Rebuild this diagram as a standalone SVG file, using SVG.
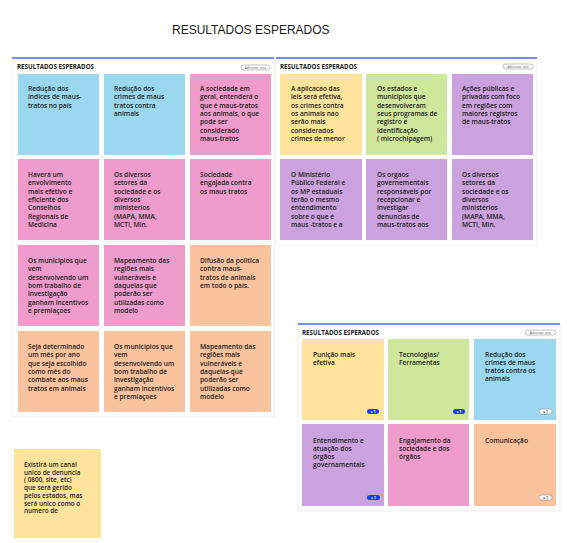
<svg xmlns="http://www.w3.org/2000/svg" width="567" height="543" viewBox="0 0 567 543">
<style>
.panel{fill:#ffffff;stroke:#ececec;stroke-width:0.8}
.bar{stroke:#4a66f5;stroke-width:1.5}
.hdr{font-family:"Open Sans","Liberation Sans",sans-serif;font-weight:700;font-size:6.2px;fill:#1a1a1a}
.btn{fill:#ffffff;stroke:#9a9a9a;stroke-width:0.6}
.btnt{font-family:"Open Sans","Liberation Sans",sans-serif;font-size:3.2px;fill:#555}
.t{font-family:"Open Sans","Noto Sans","Liberation Sans",sans-serif;font-weight:600;font-size:6.6px;fill:#1a1a1a}
.ts{font-family:"Open Sans","Noto Sans","Liberation Sans",sans-serif;font-weight:600;font-size:6.4px;fill:#1a1a1a}
.blue{fill:#9bd8f0}.pink{fill:#ef9bcb}.peach{fill:#fac29d}.yellow{fill:#fee39b}.green{fill:#cfe79d}.purple{fill:#c9a2de}
.vb{fill:#1f3bff}.vw{fill:#ffffff;stroke:#888;stroke-width:0.6}
.vbt{font-family:"Open Sans","Liberation Sans",sans-serif;font-size:3.4px;fill:#ffffff;font-weight:700}
.vwt{font-family:"Open Sans","Liberation Sans",sans-serif;font-size:3.4px;fill:#333;font-weight:700}
.title{font-family:"Liberation Sans",sans-serif;font-size:12px;fill:#1a1a1a}
</style>
<rect x="0" y="0" width="567" height="543" fill="#ffffff"/>
<text class="title" x="172" y="34">RESULTADOS ESPERADOS</text>

<g id="panel-left">
<rect class="panel" x="12" y="58" width="262" height="359"/>
<line class="bar" x1="12" y1="58" x2="274" y2="58"/>
<text class="hdr" x="17" y="69">RESULTADOS ESPERADOS</text>
<rect class="btn" x="241" y="65" width="29" height="5" rx="2.5"/>
<text class="btnt" x="255.5" y="68.7" text-anchor="middle">Adicionar voto</text>
</g>

<g id="panel-right">
<rect class="panel" x="276" y="58" width="261" height="187"/>
<line class="bar" x1="276" y1="58" x2="537" y2="58"/>
<text class="hdr" x="280" y="69">RESULTADOS ESPERADOS</text>
<rect class="btn" x="503" y="64" width="30" height="5" rx="2.5"/>
<text class="btnt" x="518" y="67.7" text-anchor="middle">Adicionar voto</text>
</g>

<g id="panel-bottom">
<rect class="panel" x="298" y="324" width="262" height="187"/>
<line class="bar" x1="298" y1="324" x2="560" y2="324"/>
<text class="hdr" x="302" y="335">RESULTADOS ESPERADOS</text>
<rect class="btn" x="525" y="330" width="31" height="5" rx="2.5"/>
<text class="btnt" x="540.5" y="333.7" text-anchor="middle">Adicionar voto</text>
</g>

<!-- Left panel stickies -->
<g id="s-l1"><rect class="blue" x="18" y="74" width="81" height="81"/>
<text class="t" x="28" y="91"><tspan x="28">Redução dos</tspan><tspan x="28" dy="8.3">índices de maus-</tspan><tspan x="28" dy="8.3">tratos no país</tspan></text></g>
<g id="s-l2"><rect class="blue" x="104" y="74" width="81" height="81"/>
<text class="t" x="114" y="91"><tspan x="114">Redução dos</tspan><tspan x="114" dy="8.3">crimes de maus</tspan><tspan x="114" dy="8.3">tratos contra</tspan><tspan x="114" dy="8.3">animais</tspan></text></g>
<g id="s-l3"><rect class="pink" x="190" y="74" width="81" height="81"/>
<text class="t" x="200" y="91"><tspan x="200">A sociedade em</tspan><tspan x="200" dy="8.3">geral, entenderá o</tspan><tspan x="200" dy="8.3">que é maus-tratos</tspan><tspan x="200" dy="8.3">aos animais, o que</tspan><tspan x="200" dy="8.3">pode ser</tspan><tspan x="200" dy="8.3">considerado</tspan><tspan x="200" dy="8.3">maus-tratos</tspan></text></g>

<g id="s-l4"><rect class="pink" x="18" y="159" width="81" height="81"/>
<text class="t" x="28" y="177"><tspan x="28">Haverá um</tspan><tspan x="28" dy="8.3">envolvimento</tspan><tspan x="28" dy="8.3">mais efetivo e</tspan><tspan x="28" dy="8.3">eficiente dos</tspan><tspan x="28" dy="8.3">Conselhos</tspan><tspan x="28" dy="8.3">Regionais de</tspan><tspan x="28" dy="8.3">Medicina</tspan></text></g>
<g id="s-l5"><rect class="pink" x="104" y="159" width="81" height="81"/>
<text class="t" x="114" y="177"><tspan x="114">Os diversos</tspan><tspan x="114" dy="8.3">setores da</tspan><tspan x="114" dy="8.3">sociedade e os</tspan><tspan x="114" dy="8.3">diversos</tspan><tspan x="114" dy="8.3">ministerios</tspan><tspan x="114" dy="8.3">(MAPA, MMA,</tspan><tspan x="114" dy="8.3">MCTI, Min.</tspan></text></g>
<g id="s-l6"><rect class="pink" x="190" y="159" width="81" height="81"/>
<text class="t" x="200" y="177"><tspan x="200">Sociedade</tspan><tspan x="200" dy="8.3">engajada contra</tspan><tspan x="200" dy="8.3">os maus tratos</tspan></text></g>

<g id="s-l7"><rect class="pink" x="18" y="245" width="81" height="81"/>
<text class="t" x="28" y="263"><tspan x="28">Os municipios que</tspan><tspan x="28" dy="8.3">vem</tspan><tspan x="28" dy="8.3">desenvolvendo um</tspan><tspan x="28" dy="8.3">bom trabalho de</tspan><tspan x="28" dy="8.3">investigação</tspan><tspan x="28" dy="8.3">ganham incentivos</tspan><tspan x="28" dy="8.3">e premiaçoes</tspan></text></g>
<g id="s-l8"><rect class="pink" x="104" y="245" width="81" height="81"/>
<text class="t" x="114" y="263"><tspan x="114">Mapeamento das</tspan><tspan x="114" dy="8.3">regiões mais</tspan><tspan x="114" dy="8.3">vulneráveis e</tspan><tspan x="114" dy="8.3">daquelas que</tspan><tspan x="114" dy="8.3">poderão ser</tspan><tspan x="114" dy="8.3">utilizadas como</tspan><tspan x="114" dy="8.3">modelo</tspan></text></g>
<g id="s-l9"><rect class="peach" x="190" y="245" width="81" height="81"/>
<text class="t" x="200" y="263"><tspan x="200">Difusão da politica</tspan><tspan x="200" dy="8.3">contra maus-</tspan><tspan x="200" dy="8.3">tratos de animais</tspan><tspan x="200" dy="8.3">em todo o país.</tspan></text></g>

<g id="s-l10"><rect class="peach" x="18" y="331" width="81" height="81"/>
<text class="t" x="28" y="349"><tspan x="28">Seja determinado</tspan><tspan x="28" dy="8.3">um mês por ano</tspan><tspan x="28" dy="8.3">que seja escolhido</tspan><tspan x="28" dy="8.3">como mês do</tspan><tspan x="28" dy="8.3">combate aos maus</tspan><tspan x="28" dy="8.3">tratos em animais</tspan></text></g>
<g id="s-l11"><rect class="peach" x="104" y="331" width="81" height="81"/>
<text class="t" x="114" y="349"><tspan x="114">Os municipios que</tspan><tspan x="114" dy="8.3">vem</tspan><tspan x="114" dy="8.3">desenvolvendo um</tspan><tspan x="114" dy="8.3">bom trabalho de</tspan><tspan x="114" dy="8.3">investigação</tspan><tspan x="114" dy="8.3">ganham incentivos</tspan><tspan x="114" dy="8.3">e premiaçoes</tspan></text></g>
<g id="s-l12"><rect class="peach" x="190" y="331" width="81" height="81"/>
<text class="t" x="200" y="349"><tspan x="200">Mapeamento das</tspan><tspan x="200" dy="8.3">regiões mais</tspan><tspan x="200" dy="8.3">vulneráveis e</tspan><tspan x="200" dy="8.3">daquelas que</tspan><tspan x="200" dy="8.3">poderão ser</tspan><tspan x="200" dy="8.3">utilizadas como</tspan><tspan x="200" dy="8.3">modelo</tspan></text></g>

<!-- Right panel stickies -->
<g id="s-r1"><rect class="yellow" x="280" y="74" width="82" height="81"/>
<text class="t" x="291" y="91"><tspan x="291">A aplicacao das</tspan><tspan x="291" dy="8.3">leis será efetiva,</tspan><tspan x="291" dy="8.3">os crimes contra</tspan><tspan x="291" dy="8.3">os animais nao</tspan><tspan x="291" dy="8.3">serão mais</tspan><tspan x="291" dy="8.3">considerados</tspan><tspan x="291" dy="8.3">crimes de menor</tspan></text></g>
<g id="s-r2"><rect class="green" x="366" y="74" width="81" height="81"/>
<text class="t" x="377" y="91"><tspan x="377">Os estados e</tspan><tspan x="377" dy="8.3">municipios que</tspan><tspan x="377" dy="8.3">desenvolveram</tspan><tspan x="377" dy="8.3">seus programas de</tspan><tspan x="377" dy="8.3">registro e</tspan><tspan x="377" dy="8.3">identificação</tspan><tspan x="377" dy="8.3">( microchipagem)</tspan></text></g>
<g id="s-r3"><rect class="purple" x="452" y="74" width="81" height="81"/>
<text class="t" x="462" y="91"><tspan x="462">Ações públicas e</tspan><tspan x="462" dy="8.3">privadas com foco</tspan><tspan x="462" dy="8.3">em regiões com</tspan><tspan x="462" dy="8.3">maiores registros</tspan><tspan x="462" dy="8.3">de maus-tratos</tspan></text></g>

<g id="s-r4"><rect class="purple" x="280" y="159" width="82" height="81"/>
<text class="t" x="291" y="177"><tspan x="291">O Ministério</tspan><tspan x="291" dy="8.3">Público Federal e</tspan><tspan x="291" dy="8.3">os MP estaduais</tspan><tspan x="291" dy="8.3">terão o mesmo</tspan><tspan x="291" dy="8.3">entendimento</tspan><tspan x="291" dy="8.3">sobre o que é</tspan><tspan x="291" dy="8.3">maus -tratos e a</tspan></text></g>
<g id="s-r5"><rect class="purple" x="366" y="159" width="81" height="81"/>
<text class="t" x="377" y="177"><tspan x="377">Os orgaos</tspan><tspan x="377" dy="8.3">governementais</tspan><tspan x="377" dy="8.3">responsáveis por</tspan><tspan x="377" dy="8.3">recepcionar e</tspan><tspan x="377" dy="8.3">investigar</tspan><tspan x="377" dy="8.3">denuncias de</tspan><tspan x="377" dy="8.3">maus-tratos aos</tspan></text></g>
<g id="s-r6"><rect class="purple" x="452" y="159" width="81" height="81"/>
<text class="t" x="462" y="177"><tspan x="462">Os diversos</tspan><tspan x="462" dy="8.3">setores da</tspan><tspan x="462" dy="8.3">sociedade e os</tspan><tspan x="462" dy="8.3">diversos</tspan><tspan x="462" dy="8.3">ministerios</tspan><tspan x="462" dy="8.3">(MAPA, MMA,</tspan><tspan x="462" dy="8.3">MCTI, Min.</tspan></text></g>

<!-- Bottom panel stickies -->
<g id="s-b1"><rect class="yellow" x="302" y="339" width="82" height="81"/>
<text class="t" x="313" y="356.5"><tspan x="313">Punição mais</tspan><tspan x="313" dy="8.3">efetiva</tspan></text>
<rect class="vb" x="367" y="409" width="12" height="5" rx="2.5"/><text class="vbt" x="373" y="412.7" text-anchor="middle">● 1</text></g>
<g id="s-b2"><rect class="green" x="388" y="339" width="81" height="81"/>
<text class="t" x="399" y="356.5"><tspan x="399">Tecnologias/</tspan><tspan x="399" dy="8.3">Ferramentas</tspan></text>
<rect class="vb" x="453" y="409" width="12" height="5" rx="2.5"/><text class="vbt" x="459" y="412.7" text-anchor="middle">● 1</text></g>
<g id="s-b3"><rect class="blue" x="474" y="339" width="82" height="81"/>
<text class="t" x="485" y="356.5"><tspan x="485">Redução dos</tspan><tspan x="485" dy="8.3">crimes de maus</tspan><tspan x="485" dy="8.3">tratos contra os</tspan><tspan x="485" dy="8.3">animais</tspan></text>
<rect class="vw" x="539" y="409" width="13" height="5" rx="2.5"/><text class="vwt" x="545.5" y="412.7" text-anchor="middle">● 1</text></g>

<g id="s-b4"><rect class="purple" x="302" y="424" width="82" height="82"/>
<text class="t" x="313" y="442.5"><tspan x="313">Entendimento e</tspan><tspan x="313" dy="8.3">atuação dos</tspan><tspan x="313" dy="8.3">órgãos</tspan><tspan x="313" dy="8.3">governamentais</tspan></text>
<rect class="vb" x="367" y="495" width="13" height="5" rx="2.5"/><text class="vbt" x="373.5" y="498.7" text-anchor="middle">● 1</text></g>
<g id="s-b5"><rect class="pink" x="388" y="424" width="81" height="82"/>
<text class="t" x="399" y="442.5"><tspan x="399">Engajamento da</tspan><tspan x="399" dy="8.3">sociedade e dos</tspan><tspan x="399" dy="8.3">órgãos</tspan></text></g>
<g id="s-b6"><rect class="peach" x="474" y="424" width="82" height="82"/>
<text class="t" x="485" y="442.5">Comunicação</text>
<rect class="vw" x="539" y="495" width="13" height="5" rx="2.5"/><text class="vwt" x="545.5" y="498.7" text-anchor="middle">● 1</text></g>

<!-- Standalone sticky -->
<g id="s-alone"><rect class="yellow" x="14" y="449" width="87" height="89"/>
<text class="ts" x="24" y="467"><tspan x="24">Existirá um canal</tspan><tspan x="24" dy="7.7">unico de denuncia</tspan><tspan x="24" dy="7.7">( 0800, site, etc)</tspan><tspan x="24" dy="7.7">que será gerido</tspan><tspan x="24" dy="7.7">pelos estados, mas</tspan><tspan x="24" dy="7.7">será unico como o</tspan><tspan x="24" dy="7.7">numero de</tspan></text></g>

<g id="connectors"></g>
</svg>
